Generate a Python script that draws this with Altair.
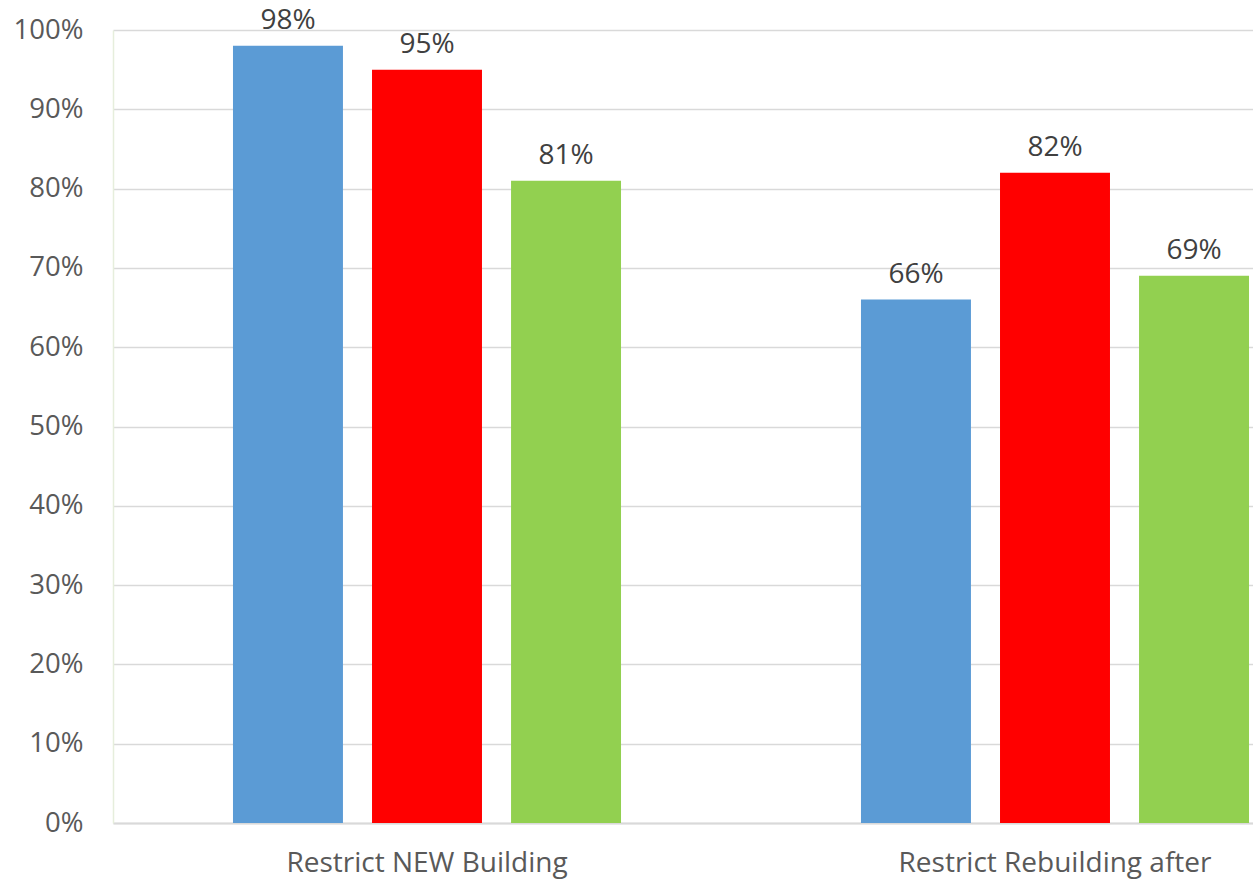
import altair as alt
import pandas as pd

categories = ["Restrict NEW Building", "Restrict Rebuilding after"]
series = ["Series 1", "Series 2", "Series 3"]
colors = ["#5B9BD5", "#FF0000", "#92D050"]
values = {
    "Series 1": [0.98, 0.66],
    "Series 2": [0.95, 0.82],
    "Series 3": [0.81, 0.69],
}

rows = []
for s in series:
    for c, v in zip(categories, values[s]):
        rows.append({"category": c, "series": s, "value": v})
df = pd.DataFrame(rows)

FONT = "Open Sans"

x = alt.X("category:N", sort=categories, title=None,
          scale=alt.Scale(range=[0, 1256], paddingInner=0, paddingOuter=0),
          axis=alt.Axis(labelAngle=0, labelFontSize=28, labelColor="#595959",
                        labelFont=FONT, labelPadding=26, labelLimit=0, ticks=False,
                        domainColor="#d9d9d9", domainWidth=2, grid=False))
xo = alt.XOffset("series:N", sort=series,
                 scale=alt.Scale(paddingInner=0.209, paddingOuter=0.863))
y = alt.Y("value:Q", title=None,
          scale=alt.Scale(domain=[0, 1], nice=False, zero=True),
          axis=alt.Axis(format=".0%", values=[i / 10 for i in range(11)],
                        labelFontSize=27.5, labelColor="#595959", labelFont=FONT,
                        labelPadding=30, ticks=False, domain=True,
                        domainColor="#e6eedc", domainWidth=1.5,
                        gridColor="#d9d9d9", gridWidth=1.5))

base = alt.Chart(df).encode(x=x, xOffset=xo, y=y)

bars = base.mark_bar().encode(
    color=alt.Color("series:N", sort=series,
                    scale=alt.Scale(domain=series, range=colors), legend=None)
)
labels = base.mark_text(baseline="bottom", dy=-11, fontSize=28, font=FONT,
                        color="#404040").encode(text=alt.Text("value:Q", format=".0%"))

chart = (bars + labels).properties(
    width=1140, height=793,
    autosize=alt.AutoSizeParams(type="none"),
    padding={"left": 113, "top": 30, "right": 0, "bottom": 58},
).configure(background="white").configure_view(stroke=None)

chart.save("out.html", embed_options={"renderer": "svg", "actions": False})
